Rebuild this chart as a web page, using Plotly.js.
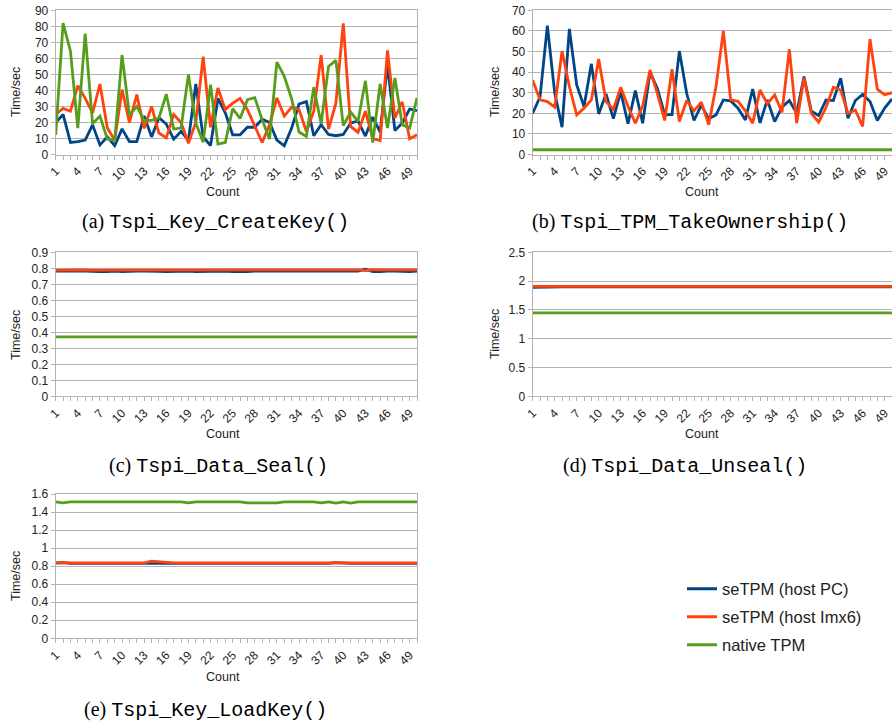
<!DOCTYPE html>
<html>
<head>
<meta charset="utf-8">
<script src="https://cdn.plot.ly/plotly-3.0.1.min.js"></script>
<style>html,body{margin:0;padding:0;background:#fff;}#chart{width:892px;height:723px;}</style>
</head>
<body>
<div id="chart"></div>
<script>
const counts = [1,2,3,4,5,6,7,8,9,10,11,12,13,14,15,16,17,18,19,20,21,22,23,24,25,26,27,28,29,30,31,32,33,34,35,36,37,38,39,40,41,42,43,44,45,46,47,48,49,50];
const seriesNames = ['seTPM (host PC)', 'seTPM (host Imx6)', 'native TPM'];

// (a) Tspi_Key_CreateKey()
const createKeyPC = [20,25,7.5,8,9,18.5,6,11,5.6,16,8,8,24,11,23,19,9.6,14.4,8.8,44,11,5.6,35,26,12.3,12.3,17,17,22,20,9,5.4,16.5,31.5,33,11.7,18.6,12.5,11.7,12.5,19.6,21,11.5,23.4,14,56,15,19.6,28.4,27.3];
const createKeyImx6 = [25,28.8,27,43,35,26,44,16.7,8.8,40.5,20,37.4,16.3,30,13.4,10.4,25,20,7,20,61,17,41.5,28,32,35,28,17.5,7.5,18.6,35.3,24,29.6,28,14.4,27,62,15.9,32,81.8,17.5,13.8,27,10,8.6,65,22.8,32.8,9.8,12.3];
const createKeyNative = [12.3,82,64.5,16.5,75.4,19.2,24,9.6,8.8,62,24.6,30,21.3,21.3,22.8,37.6,15.9,16.5,50,19.6,7.7,43.6,6.5,7.5,28.6,22.5,34.2,35.5,21.7,9.6,57.6,48.8,34.7,14,11.3,42,19.2,55,58.7,18,26.5,20.7,46,7.5,44,16.5,47.8,18.6,16.5,35.3];

// (b) Tspi_TPM_TakeOwnership()
const ownershipPC = [20,28,62.5,30,13.3,61,33.8,23.3,44,19.7,29.4,17.4,30.5,14.9,31,15.2,40,32,19.4,19.4,50.2,29.7,16.5,24,17.3,19.2,26.5,26,22.5,16.8,31.8,15.3,26.5,16,23,26.2,20,37.8,21,18.9,26.5,26.2,37,17.6,26.2,29.2,25.7,16.5,22.5,27];
const ownershipImx6 = [36,26.5,25.7,23,50.2,33,19.2,22.5,26.5,46.4,25.7,22,32.6,23.3,15.2,23.6,41,29.7,16.5,41.4,16,26.2,21.2,25.4,14.5,33,60,26.5,25.8,21.2,15.2,31.3,24.6,28.9,20.5,51,15.2,37.3,20,15.7,22.8,32.6,31.3,20,21.6,13.6,56,31.7,29,30];
const ownershipNative = [2.3,2.3,2.3,2.3,2.3,2.3,2.3,2.3,2.3,2.3,2.3,2.3,2.3,2.3,2.3,2.3,2.3,2.3,2.3,2.3,2.3,2.3,2.3,2.3,2.3,2.3,2.3,2.3,2.3,2.3,2.3,2.3,2.3,2.3,2.3,2.3,2.3,2.3,2.3,2.3,2.3,2.3,2.3,2.3,2.3,2.3,2.3,2.3,2.3,2.3];

// (c) Tspi_Data_Seal()
const sealPC = [0.782,0.784,0.784,0.784,0.783,0.78,0.779,0.78,0.783,0.78,0.783,0.783,0.782,0.783,0.781,0.78,0.781,0.783,0.782,0.779,0.78,0.783,0.783,0.783,0.78,0.779,0.78,0.783,0.783,0.78,0.779,0.782,0.783,0.783,0.782,0.782,0.783,0.783,0.782,0.782,0.783,0.782,0.795,0.78,0.779,0.783,0.782,0.779,0.78,0.782];
const sealImx6 = [0.789,0.79,0.79,0.79,0.79,0.789,0.789,0.789,0.789,0.791,0.79,0.789,0.789,0.789,0.789,0.789,0.789,0.79,0.79,0.79,0.789,0.789,0.79,0.79,0.789,0.789,0.789,0.789,0.789,0.789,0.789,0.789,0.789,0.789,0.789,0.789,0.789,0.789,0.789,0.789,0.789,0.79,0.786,0.791,0.79,0.79,0.79,0.79,0.79,0.79];
const sealNative = [0.372,0.372,0.372,0.372,0.372,0.372,0.372,0.372,0.372,0.372,0.372,0.372,0.372,0.372,0.372,0.372,0.372,0.372,0.372,0.372,0.372,0.372,0.372,0.372,0.372,0.372,0.372,0.372,0.372,0.372,0.372,0.372,0.372,0.372,0.372,0.372,0.372,0.372,0.372,0.372,0.372,0.372,0.372,0.372,0.372,0.372,0.372,0.372,0.372,0.372];

// (d) Tspi_Data_Unseal()
const unsealPC = [1.89,1.895,1.9,1.9,1.9,1.9,1.9,1.9,1.9,1.9,1.9,1.898,1.9,1.9,1.9,1.9,1.9,1.9,1.9,1.9,1.9,1.9,1.9,1.9,1.9,1.9,1.9,1.9,1.9,1.9,1.9,1.9,1.898,1.9,1.9,1.9,1.9,1.9,1.898,1.9,1.9,1.9,1.9,1.9,1.9,1.9,1.9,1.9,1.9,1.9];
const unsealImx6 = [1.91,1.91,1.91,1.91,1.91,1.91,1.91,1.91,1.91,1.91,1.91,1.91,1.912,1.91,1.91,1.91,1.91,1.91,1.91,1.908,1.91,1.91,1.91,1.91,1.91,1.91,1.91,1.91,1.91,1.91,1.91,1.91,1.91,1.91,1.91,1.91,1.91,1.91,1.91,1.91,1.91,1.91,1.91,1.91,1.91,1.91,1.91,1.91,1.91,1.91];
const unsealNative = [1.45,1.45,1.45,1.45,1.45,1.45,1.45,1.45,1.45,1.45,1.45,1.45,1.45,1.45,1.45,1.45,1.45,1.45,1.45,1.45,1.45,1.45,1.45,1.45,1.45,1.45,1.45,1.45,1.45,1.45,1.45,1.45,1.45,1.45,1.45,1.45,1.45,1.45,1.45,1.45,1.45,1.45,1.45,1.45,1.45,1.45,1.45,1.45,1.45,1.45];

// (e) Tspi_Key_LoadKey()
const loadKeyPC = [0.835,0.84,0.83,0.83,0.83,0.83,0.83,0.83,0.83,0.83,0.83,0.83,0.83,0.835,0.835,0.83,0.83,0.83,0.83,0.83,0.83,0.83,0.83,0.83,0.83,0.828,0.83,0.83,0.83,0.83,0.828,0.83,0.83,0.83,0.83,0.83,0.83,0.83,0.838,0.83,0.83,0.83,0.83,0.83,0.83,0.83,0.83,0.83,0.828,0.83];
const loadKeyImx6 = [0.836,0.836,0.836,0.836,0.836,0.836,0.836,0.836,0.836,0.836,0.836,0.836,0.836,0.855,0.848,0.836,0.836,0.836,0.836,0.836,0.836,0.836,0.836,0.836,0.836,0.836,0.836,0.836,0.836,0.836,0.836,0.836,0.836,0.836,0.836,0.836,0.836,0.836,0.836,0.836,0.836,0.836,0.836,0.836,0.836,0.836,0.836,0.836,0.836,0.836];
const loadKeyNative = [1.512,1.502,1.512,1.512,1.512,1.512,1.512,1.512,1.512,1.512,1.512,1.512,1.512,1.512,1.512,1.512,1.512,1.512,1.502,1.512,1.512,1.512,1.512,1.512,1.512,1.512,1.502,1.5,1.5,1.5,1.502,1.512,1.512,1.512,1.512,1.512,1.502,1.512,1.5,1.512,1.5,1.512,1.512,1.512,1.512,1.512,1.512,1.512,1.512,1.512];

const panelTitles = ['Tspi_Key_CreateKey()', 'Tspi_TPM_TakeOwnership()', 'Tspi_Data_Seal()', 'Tspi_Data_Unseal()', 'Tspi_Key_LoadKey()'];
const panelLetters = ['(a)', '(b)', '(c)', '(d)', '(e)'];

const colors = ['#004586', '#ff420e', '#579d1c'];
const panels = [
  {data: [createKeyPC, createKeyImx6, createKeyNative], range: [0, 90], dtick: 10},
  {data: [ownershipPC, ownershipImx6, ownershipNative], range: [0, 70], dtick: 10},
  {data: [sealPC, sealImx6, sealNative], range: [0, 0.9], dtick: 0.1},
  {data: [unsealPC, unsealImx6, unsealNative], range: [0, 2.5], dtick: 0.5},
  {data: [loadKeyPC, loadKeyImx6, loadKeyNative], range: [0, 1.6], dtick: 0.2}
];

const W = 892, H = 723;
// pixel geometry of each plot area: [left, right, top, bottom]
const geom = [
  [55.7, 417, 10.3, 154.5],
  [532.7, 892, 10.3, 154.5],
  [55.7, 417, 252.3, 396.3],
  [532.7, 892, 252.3, 396.3],
  [55.7, 417, 494, 638.3]
];
const countPos = [[223, 192], [702, 192], [223, 434], [702, 434], [223, 677]];
const ytitlePos = [[16, 92], [495, 92], [16, 335], [495, 334], [16, 576]];
const captionPos = [[215, 222], [690, 222], [218, 466], [685, 466], [205, 710]];
const legendRows = [589, 617, 645];
const legendIds = ['legend', 'legend2', 'legend3'];

const traces = [];
const layout = {
  width: W, height: H,
  margin: {l: 0, r: 0, t: 0, b: 0},
  paper_bgcolor: '#ffffff', plot_bgcolor: '#ffffff',
  font: {family: 'Liberation Sans, Arial, sans-serif', size: 12, color: '#222'},
  showlegend: true,
  annotations: []
};
legendIds.forEach((id, k) => {
  layout[id] = {
    x: 682 / W, y: 1 - legendRows[k] / H, xanchor: 'left', yanchor: 'middle',
    font: {family: 'Liberation Sans, Arial, sans-serif', size: 16.5, color: '#222'},
    bgcolor: 'rgba(0,0,0,0)', borderwidth: 0
  };
});

panels.forEach((p, i) => {
  const n = i + 1;
  const xa = 'x' + (n === 1 ? '' : n);
  const ya = 'y' + (n === 1 ? '' : n);
  p.data.forEach((vals, k) => {
    traces.push({
      type: 'scatter', mode: 'lines', x: counts, y: vals,
      xaxis: xa, yaxis: ya, name: seriesNames[k],
      legend: legendIds[k], showlegend: i === 0,
      line: {color: colors[k], width: 2.8}, hoverinfo: 'skip'
    });
  });
  const g = geom[i];
  layout['xaxis' + (n === 1 ? '' : n)] = {
    domain: [g[0] / W, Math.min(1, g[1] / W)], anchor: ya,
    range: [1, 50], tickmode: 'linear', tick0: 1, dtick: 3,
    tickangle: -45, ticks: 'outside', ticklen: 4, tickcolor: '#b3b3b3',
    tickfont: {size: 12, color: '#222'},
    showgrid: false, zeroline: false, showline: true, linecolor: '#b3b3b3', linewidth: 1, mirror: true,
    minor: {tickmode: 'linear', tick0: 1, dtick: 1, ticks: 'outside', ticklen: 4, tickcolor: '#b3b3b3', showgrid: false},
    fixedrange: true
  };
  layout['yaxis' + (n === 1 ? '' : n)] = {
    domain: [1 - g[3] / H, 1 - g[2] / H], anchor: xa,
    range: p.range, tickmode: 'linear', tick0: 0, dtick: p.dtick,
    ticks: 'outside', ticklen: 4, tickcolor: '#b3b3b3',
    tickfont: {size: 12, color: '#222'},
    showgrid: true, gridcolor: '#b3b3b3', gridwidth: 1,
    zeroline: false, showline: true, linecolor: '#b3b3b3', linewidth: 1, mirror: true,
    fixedrange: true
  };
  layout.annotations.push({
    text: 'Count', xref: 'paper', yref: 'paper',
    x: countPos[i][0] / W, y: 1 - countPos[i][1] / H, xanchor: 'center', yanchor: 'middle',
    showarrow: false, font: {size: 12.5, color: '#222'}
  });
  layout.annotations.push({
    text: 'Time/sec', xref: 'paper', yref: 'paper', textangle: -90,
    x: ytitlePos[i][0] / W, y: 1 - ytitlePos[i][1] / H, xanchor: 'center', yanchor: 'middle',
    showarrow: false, font: {size: 12.5, color: '#222'}
  });
  layout.annotations.push({
    text: panelLetters[i] + ' <span style="font-family:\'Liberation Mono\', \'DejaVu Sans Mono\', monospace">' + panelTitles[i] + '</span>',
    xref: 'paper', yref: 'paper',
    x: captionPos[i][0] / W, y: 1 - captionPos[i][1] / H, xanchor: 'center', yanchor: 'middle',
    showarrow: false, font: {family: 'Liberation Serif, DejaVu Serif, serif', size: 20, color: '#000'}
  });
});

Plotly.newPlot('chart', traces, layout, {staticPlot: true, displayModeBar: false});
</script>
</body>
</html>
